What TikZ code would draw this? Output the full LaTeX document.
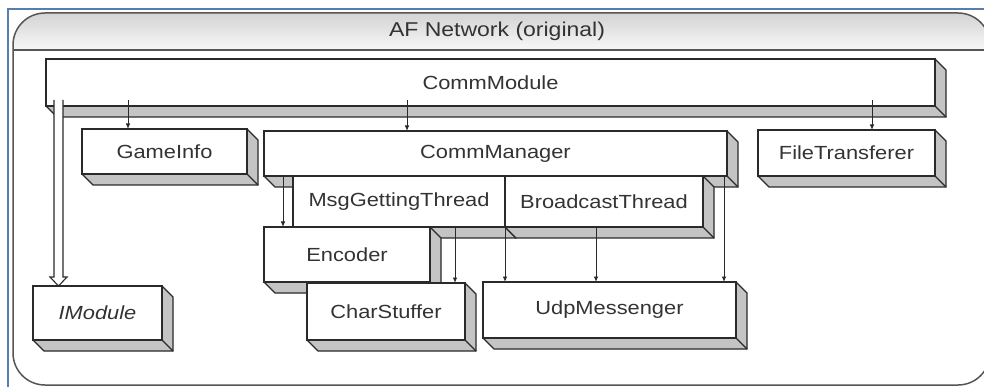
\documentclass[tikz,border=0pt]{standalone}
\usepackage{fontspec}
\setmainfont[FakeStretch=1.15]{Liberation Sans}
\usetikzlibrary{arrows.meta}
\definecolor{bordblue}{HTML}{5A7DB0}
\definecolor{depthgray}{HTML}{C4C4C4}
\definecolor{ink}{HTML}{2A2A2A}
\definecolor{textink}{HTML}{333333}
\definecolor{framegray}{HTML}{555555}
\tikzset{
  boxline/.style={draw=ink, line width=1.2pt, line join=miter},
  frontbox/.style={boxline, fill=white, inner sep=0pt, outer sep=0pt,
    font=\fontsize{19}{22}\selectfont, text=textink},
  arr/.style={draw=ink, line width=0.95pt, -{Latex[length=5.5pt,width=4.5pt]}},
  hollowarrow/.style={draw=ink, line width=1.1pt, fill=white, line join=miter},
  framestyle/.style={draw=framegray, line width=1.5pt},
}
% name, x1, y1, x2, y2, text
\newcommand\tdbox[6]{%
  \fill[depthgray] (#4,#3) -- (#4+11,#3+11) -- (#4+11,#5+11) -- (#2+11,#5+11) -- (#2,#5) -- cycle;
  \draw[boxline] (#4,#3) -- (#4+11,#3+11) -- (#4+11,#5+11) -- (#2+11,#5+11) -- (#2,#5);
  \draw[boxline] (#4,#5) -- (#4+11,#5+11);
  \node[frontbox, minimum width={#4-#2}, minimum height={#5-#3}, anchor=north west] (#1) at (#2,#3) {#6};
}
\begin{document}
\begin{tikzpicture}[x=1pt,y=-1pt]
\useasboundingbox (0,0) rectangle (984,387);
\clip (0,0) rectangle (984,387);
\fill[white] (0,0) rectangle (984,387);
% blue window border
\draw[bordblue, line width=2pt] (8,390) -- (8,9) -- (990,9);
% outer frame with header
\fill[white, rounded corners=32] (13,385) -- (13,13) -- (990,13) -- (990,385) -- cycle;
\begin{scope}
  \clip[rounded corners=32] (13,385) -- (13,13) -- (990,13) -- (990,385) -- cycle;
  \shade[top color=black!17, bottom color=black!3] (13,13) rectangle (990,50);
\end{scope}
\draw[framestyle, rounded corners=32] (13,385) -- (13,13) -- (990,13) -- (990,385) -- cycle;
\draw[framestyle] (13,50) -- (990,50);
\node[font=\fontsize{20}{24}\selectfont, text=textink] (title) at (497,31) {AF Network (original)};
% boxes
\tdbox{cm}{46}{59}{935}{106}{CommModule}
\tdbox{gi}{82}{129}{247}{174}{GameInfo}
\tdbox{ft}{758}{130}{935}{176}{FileTransferer}
\tdbox{mgr}{264}{131}{727}{176}{CommManager}
\tdbox{mgt}{293}{176}{505}{227}{MsgGettingThread}
\tdbox{bt}{505}{176}{703}{227}{BroadcastThread}
\tdbox{enc}{264}{227}{430}{282}{Encoder}
\tdbox{cs}{307}{283}{465}{340}{CharStuffer}
\tdbox{udp}{483}{282}{736}{338}{UdpMessenger}
\tdbox{im}{33}{286}{162}{340}{\textit{IModule}}
% connectors
\coordinate (cmb) at ([yshift=6pt]cm.south);
\draw[hollowarrow] (54,0 |- cmb) -- (54,277) -- (50,277) -- (58.5,0 |- im.north) -- (67,277) -- (63,277) -- (63,0 |- cmb);
\draw[arr] (128,0 |- cmb) -- (128,0 |- gi.north);
\draw[arr] (407,0 |- cmb) -- (407,0 |- mgr.north);
\draw[arr] (872,0 |- cmb) -- (872,0 |- ft.north);
\draw[arr] (283,0 |- mgr.south) -- (283,0 |- enc.north);
\draw[arr] (505,0 |- mgr.south) -- (505,0 |- udp.north);
\draw[arr] (724,0 |- mgr.south) -- (724,0 |- udp.north);
\draw[arr] (455,0 |- mgt.south) -- (455,0 |- cs.north);
\draw[arr] (596,0 |- bt.south) -- (596,0 |- udp.north);
\end{tikzpicture}
\end{document}
